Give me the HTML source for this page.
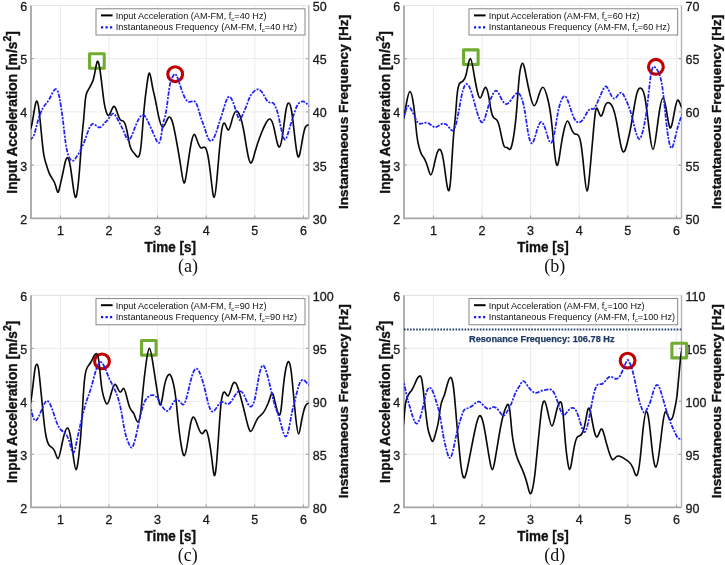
<!DOCTYPE html><html><head><meta charset="utf-8"><style>html,body{margin:0;padding:0;background:#fff;width:725px;height:565px;overflow:hidden}</style></head><body><svg width="725" height="565" viewBox="0 0 725 565" style="display:block;will-change:transform">
<rect width="725" height="565" fill="#fff"/>
<path d="M60.40,5.5V218.3M109.00,5.5V218.3M157.60,5.5V218.3M206.20,5.5V218.3M254.80,5.5V218.3M303.40,5.5V218.3M31,165.10H308.8M31,111.90H308.8M31,58.70H308.8" stroke="#ebebeb" stroke-width="1" fill="none"/>
<path d="M31,5.5H308.8" stroke="#e6e6e6" stroke-width="1.2" fill="none"/>
<path d="M60.40,218.3v-2.8M109.00,218.3v-2.8M157.60,218.3v-2.8M206.20,218.3v-2.8M254.80,218.3v-2.8M303.40,218.3v-2.8M31,165.10h2.8M308.8,165.10h-2.8M31,111.90h2.8M308.8,111.90h-2.8M31,58.70h2.8M308.8,58.70h-2.8" stroke="#999" stroke-width="1" fill="none"/>
<path d="M31,5.5V218.3H308.8" stroke="#a6a6a6" stroke-width="1.8" fill="none"/>
<path d="M308.8,5.5V218.3" stroke="#b4b4b4" stroke-width="1.4" fill="none"/>
<g font-family="Liberation Sans" font-size="12.5" fill="#1a1a1a" stroke="#1a1a1a" stroke-width="0.3"><text x="27.2" y="223.70" text-anchor="end">2</text><text x="312.8" y="223.70" text-anchor="start">30</text><text x="27.2" y="170.50" text-anchor="end">3</text><text x="312.8" y="170.50" text-anchor="start">35</text><text x="27.2" y="117.30" text-anchor="end">4</text><text x="312.8" y="117.30" text-anchor="start">40</text><text x="27.2" y="64.10" text-anchor="end">5</text><text x="312.8" y="64.10" text-anchor="start">45</text><text x="27.2" y="10.90" text-anchor="end">6</text><text x="312.8" y="10.90" text-anchor="start">50</text><text x="60.40" y="234.50" text-anchor="middle">1</text><text x="109.00" y="234.50" text-anchor="middle">2</text><text x="157.60" y="234.50" text-anchor="middle">3</text><text x="206.20" y="234.50" text-anchor="middle">4</text><text x="254.80" y="234.50" text-anchor="middle">5</text><text x="303.40" y="234.50" text-anchor="middle">6</text></g>
<g font-family="Liberation Sans" font-size="13.6" font-weight="bold" fill="#111" stroke="#111" stroke-width="0.35"><text transform="translate(170.20,251.70) scale(0.93,1)" font-size="14.5" text-anchor="middle">Time [s]</text><text transform="translate(16.60,112.40) rotate(-90)" font-size="13.8" text-anchor="middle">Input Acceleration [m/s<tspan font-size="10.5" dy="-6">2</tspan><tspan dy="6">]</tspan></text><text transform="translate(348.30,111.90) rotate(-90)" text-anchor="middle">Instantaneous Frequency [Hz]</text></g>
<rect x="96.00" y="8.80" width="209.00" height="26.20" fill="#fff" stroke="#7a7a7a" stroke-width="0.9"/>
<path d="M101.00,15.40h11.6" stroke="#000" stroke-width="2"/>
<path d="M101.00,27.40h11.3" stroke="#1414ff" stroke-width="2.2" stroke-dasharray="2.2,2.3"/>
<g font-family="Liberation Sans" font-size="9.15" fill="#111"><text x="115.70" y="19.40">Input Acceleration (AM-FM, f<tspan font-size="6" dy="1.8">c</tspan><tspan dy="-1.8">=40 Hz)</tspan></text><text x="115.70" y="30.40">Instantaneous Frequency (AM-FM, f<tspan font-size="6" dy="1.8">c</tspan><tspan dy="-1.8">=40 Hz)</tspan></text></g>
<rect x="89.60" y="53.70" width="14.6" height="14.6" fill="none" stroke="#6fac2f" stroke-width="3.1" stroke-linejoin="round"/>
<circle cx="175.20" cy="74.20" r="7.4" fill="none" stroke="#c00000" stroke-width="3.1"/>
<clipPath id="cpa"><rect x="31" y="5.5" width="277.8" height="212.8"/></clipPath>
<g clip-path="url(#cpa)" fill="none" stroke-linejoin="round">
<path d="M30.00,130.00 C30.33,129.48 30.67,128.96 31.00,128.00 C32.00,125.11 33.00,118.19 34.00,112.00 C35.00,105.81 36.00,100.36 37.00,101.06 C37.67,101.52 38.33,104.72 39.00,110.00 C39.60,114.75 40.20,121.19 40.80,127.50 C41.30,132.75 41.80,137.91 42.30,142.60 C42.80,147.29 43.30,151.50 43.80,154.60 C44.53,159.15 45.27,161.31 46.00,163.60 C47.00,166.73 48.00,170.11 49.00,172.60 C50.27,175.75 51.53,177.46 52.80,179.40 C53.80,180.94 54.80,182.62 55.80,186.20 C56.47,188.59 57.13,191.82 57.80,192.17 C58.63,192.60 59.47,188.53 60.30,184.70 C61.30,180.10 62.30,175.84 63.30,171.00 C64.03,167.45 64.77,163.59 65.50,161.00 C66.03,159.12 66.57,157.91 67.10,157.65 C67.63,157.40 68.17,158.09 68.70,159.50 C69.17,160.73 69.63,162.51 70.10,165.00 C71.10,170.33 72.10,178.88 73.10,186.20 C73.87,191.81 74.63,196.69 75.40,197.33 C76.13,197.94 76.87,194.67 77.60,189.20 C78.37,183.48 79.13,175.35 79.90,165.00 C80.63,155.10 81.37,143.18 82.10,135.00 C82.60,129.42 83.10,125.58 83.60,120.00 C84.17,113.68 84.73,105.12 85.30,100.00 C86.00,93.67 86.70,92.58 87.40,91.40 C88.67,89.27 89.93,86.89 91.20,84.60 C91.93,83.28 92.67,81.99 93.40,79.30 C94.17,76.49 94.93,72.16 95.70,68.00 C96.20,65.29 96.70,62.66 97.20,61.71 C97.93,60.33 98.67,62.57 99.40,66.50 C100.17,70.61 100.93,76.56 101.70,83.10 C102.43,89.36 103.17,96.16 103.90,101.10 C104.67,106.26 105.43,109.39 106.20,111.70 C106.93,113.91 107.67,115.37 108.40,115.40 C109.43,115.43 110.47,112.61 111.50,110.20 C112.50,107.87 113.50,105.92 114.50,106.51 C115.50,107.09 116.50,110.22 117.50,113.20 C118.50,116.18 119.50,119.01 120.50,120.00 C121.23,120.72 121.97,120.45 122.70,120.70 C123.47,120.96 124.23,121.78 125.00,123.70 C125.73,125.54 126.47,128.39 127.20,132.00 C128.13,136.60 129.07,142.44 130.00,146.00 C131.33,151.08 132.67,151.50 134.00,153.00 C135.20,154.35 136.40,156.57 137.60,156.95 C138.73,157.31 139.87,156.03 141.00,146.00 C142.00,137.15 143.00,121.49 144.00,110.00 C144.97,98.90 145.93,91.69 146.90,84.80 C147.77,78.62 148.63,72.69 149.50,73.01 C150.37,73.34 151.23,79.92 152.10,84.80 C153.00,89.87 153.90,93.09 154.80,97.20 C156.03,102.83 157.27,110.10 158.50,115.80 C159.93,122.42 161.37,126.92 162.80,127.00 C164.80,127.11 166.80,118.60 168.80,117.21 C170.20,116.23 171.60,118.74 173.00,124.00 C174.33,129.01 175.67,136.51 177.00,144.00 C178.33,151.49 179.67,158.96 181.00,168.00 C182.00,174.78 183.00,182.44 184.00,182.97 C185.00,183.50 186.00,176.89 187.00,170.00 C188.33,160.81 189.67,151.10 191.00,144.00 C192.00,138.68 193.00,134.82 194.00,134.43 C195.00,134.05 196.00,137.13 197.00,140.00 C198.33,143.83 199.67,147.30 201.00,147.90 C202.33,148.50 203.67,146.23 205.00,147.28 C206.00,148.07 207.00,150.71 208.00,156.00 C209.00,161.29 210.00,169.22 211.00,178.00 C212.07,187.37 213.13,197.71 214.20,197.29 C215.13,196.92 216.07,188.32 217.00,178.00 C218.00,166.94 219.00,153.92 220.00,144.00 C221.20,132.10 222.40,124.66 223.60,123.26 C224.40,122.33 225.20,124.07 226.00,126.00 C226.87,128.09 227.73,130.38 228.60,129.95 C229.73,129.38 230.87,124.14 232.00,120.00 C233.33,115.14 234.67,111.80 236.00,111.13 C237.33,110.46 238.67,112.45 240.00,116.00 C241.33,119.55 242.67,124.66 244.00,132.00 C245.00,137.51 246.00,144.26 247.00,150.00 C248.20,156.88 249.40,162.29 250.60,162.93 C252.07,163.72 253.53,157.39 255.00,152.00 C257.00,144.65 259.00,139.03 261.00,134.00 C262.67,129.81 264.33,126.04 266.00,123.00 C267.33,120.57 268.67,118.62 270.00,119.06 C271.33,119.51 272.67,122.37 274.00,128.00 C275.00,132.22 276.00,138.01 277.00,142.00 C277.87,145.46 278.73,147.57 279.60,146.87 C280.73,145.95 281.87,140.22 283.00,132.00 C284.00,124.75 285.00,115.56 286.00,110.00 C287.00,104.44 288.00,102.52 289.00,103.10 C289.80,103.56 290.60,105.62 291.40,110.00 C292.27,114.74 293.13,122.21 294.00,130.00 C295.33,141.99 296.67,154.75 298.00,156.72 C299.33,158.69 300.67,149.86 302.00,142.00 C303.00,136.11 304.00,130.76 305.00,128.00 C306.00,125.24 307.00,125.06 308.00,125.00 C308.67,124.96 309.33,124.98 310.00,125.00" stroke="#0a0a0a" stroke-width="1.65"/>
<path d="M30.00,140.00 C30.33,139.65 30.67,139.30 31.00,139.00 C32.00,138.09 33.00,137.58 34.00,135.00 C35.00,132.42 36.00,127.77 37.00,124.00 C38.00,120.23 39.00,117.33 40.00,114.70 C41.00,112.07 42.00,109.70 43.00,107.90 C45.00,104.30 47.00,102.96 49.00,99.60 C51.03,96.18 53.07,90.66 55.10,89.36 C56.10,88.72 57.10,89.11 58.10,92.10 C59.10,95.09 60.10,100.69 61.10,107.20 C61.73,111.32 62.37,115.81 63.00,121.00 C63.87,128.11 64.73,136.53 65.60,142.60 C66.83,151.23 68.07,155.09 69.30,157.60 C70.33,159.70 71.37,160.86 72.40,160.90 C73.63,160.94 74.87,159.38 76.10,157.60 C77.60,155.44 79.10,152.96 80.60,150.00 C82.10,147.04 83.60,143.61 85.10,139.50 C86.60,135.39 88.10,130.59 89.60,127.50 C90.63,125.37 91.67,124.05 92.70,123.83 C93.70,123.62 94.70,124.45 95.70,125.30 C97.20,126.57 98.70,127.89 100.20,127.39 C101.70,126.89 103.20,124.56 104.70,123.00 C105.70,121.96 106.70,121.27 107.70,120.00 C109.47,117.76 111.23,113.72 113.00,113.60 C114.67,113.49 116.33,116.87 118.00,120.00 C120.00,123.76 122.00,127.18 124.00,132.00 C125.33,135.22 126.67,139.06 128.00,139.84 C130.00,141.02 132.00,135.33 134.00,130.00 C137.33,121.11 140.67,113.21 144.00,115.36 C146.00,116.65 148.00,121.56 150.00,126.00 C151.50,129.33 153.00,132.40 154.50,136.00 C155.70,138.88 156.90,142.11 158.10,142.85 C159.07,143.44 160.03,142.42 161.00,137.00 C161.67,133.26 162.33,127.42 163.00,124.00 C163.67,120.58 164.33,119.56 165.00,117.00 C166.00,113.15 167.00,105.82 168.00,98.00 C168.67,92.79 169.33,87.36 170.00,84.00 C170.67,80.64 171.33,79.36 172.00,78.00 C172.87,76.24 173.73,74.35 174.60,74.05 C175.73,73.64 176.87,75.94 178.00,79.00 C179.00,81.70 180.00,84.99 181.00,88.00 C182.33,92.02 183.67,95.55 185.00,98.00 C186.33,100.45 187.67,101.80 189.00,101.98 C190.67,102.20 192.33,100.57 194.00,101.11 C195.00,101.43 196.00,102.54 197.00,105.00 C198.33,108.28 199.67,113.97 201.00,118.00 C202.00,121.03 203.00,123.12 204.00,126.00 C205.33,129.84 206.67,135.06 208.00,138.00 C209.00,140.20 210.00,141.12 211.00,140.99 C212.33,140.81 213.67,138.78 215.00,135.50 C216.33,132.22 217.67,127.69 219.00,123.50 C220.33,119.31 221.67,115.44 223.00,111.00 C224.10,107.33 225.20,103.27 226.30,100.50 C227.20,98.23 228.10,96.83 229.00,96.63 C230.33,96.33 231.67,98.67 233.00,102.00 C234.33,105.33 235.67,109.67 237.00,114.00 C238.00,117.25 239.00,120.50 240.00,119.93 C240.47,119.67 240.93,118.57 241.40,117.50 C242.33,115.36 243.27,113.31 244.20,111.20 C245.17,109.01 246.13,106.74 247.10,104.10 C247.80,102.19 248.50,100.08 249.20,98.40 C250.13,96.16 251.07,94.69 252.00,93.50 C252.97,92.27 253.93,91.34 254.90,90.60 C255.93,89.80 256.97,89.22 258.00,89.31 C258.83,89.39 259.67,89.91 260.50,90.60 C261.23,91.21 261.97,91.95 262.70,93.10 C263.40,94.19 264.10,95.65 264.80,97.00 C265.50,98.35 266.20,99.58 266.90,100.50 C267.60,101.42 268.30,102.01 269.00,102.30 C269.97,102.70 270.93,102.53 271.90,102.70 C272.60,102.82 273.30,103.13 274.00,104.10 C274.60,104.94 275.20,106.26 275.80,107.60 C276.27,108.64 276.73,109.68 277.20,111.20 C277.67,112.72 278.13,114.71 278.60,116.80 C279.40,120.39 280.20,124.29 281.00,128.00 C282.20,133.56 283.40,138.67 284.60,139.48 C286.07,140.47 287.53,135.03 289.00,130.00 C290.33,125.43 291.67,121.21 293.00,117.00 C294.33,112.79 295.67,108.59 297.00,106.00 C298.00,104.06 299.00,103.02 300.00,102.30 C300.90,101.65 301.80,101.26 302.70,101.30 C303.80,101.35 304.90,102.04 306.00,103.00 C307.00,103.87 308.00,104.97 309.00,106.00 C309.67,106.69 310.33,107.34 311.00,108.00" stroke="#2020ff" stroke-width="1.75" stroke-dasharray="4.4,1.3,2.1,1.3"/>
</g>
<text x="188.10" y="271.80" font-family="Liberation Serif" font-size="18" text-anchor="middle" fill="#111">(a)</text>
<path d="M433.40,5.5V218.3M482.00,5.5V218.3M530.60,5.5V218.3M579.20,5.5V218.3M627.80,5.5V218.3M676.40,5.5V218.3M404,165.10H681.5M404,111.90H681.5M404,58.70H681.5" stroke="#ebebeb" stroke-width="1" fill="none"/>
<path d="M404,5.5H681.5" stroke="#e6e6e6" stroke-width="1.2" fill="none"/>
<path d="M433.40,218.3v-2.8M482.00,218.3v-2.8M530.60,218.3v-2.8M579.20,218.3v-2.8M627.80,218.3v-2.8M676.40,218.3v-2.8M404,165.10h2.8M681.5,165.10h-2.8M404,111.90h2.8M681.5,111.90h-2.8M404,58.70h2.8M681.5,58.70h-2.8" stroke="#999" stroke-width="1" fill="none"/>
<path d="M404,5.5V218.3H681.5" stroke="#a6a6a6" stroke-width="1.8" fill="none"/>
<path d="M681.5,5.5V218.3" stroke="#b4b4b4" stroke-width="1.4" fill="none"/>
<g font-family="Liberation Sans" font-size="12.5" fill="#1a1a1a" stroke="#1a1a1a" stroke-width="0.3"><text x="400.2" y="223.70" text-anchor="end">2</text><text x="685.5" y="223.70" text-anchor="start">50</text><text x="400.2" y="170.50" text-anchor="end">3</text><text x="685.5" y="170.50" text-anchor="start">55</text><text x="400.2" y="117.30" text-anchor="end">4</text><text x="685.5" y="117.30" text-anchor="start">60</text><text x="400.2" y="64.10" text-anchor="end">5</text><text x="685.5" y="64.10" text-anchor="start">65</text><text x="400.2" y="10.90" text-anchor="end">6</text><text x="685.5" y="10.90" text-anchor="start">70</text><text x="433.40" y="234.50" text-anchor="middle">1</text><text x="482.00" y="234.50" text-anchor="middle">2</text><text x="530.60" y="234.50" text-anchor="middle">3</text><text x="579.20" y="234.50" text-anchor="middle">4</text><text x="627.80" y="234.50" text-anchor="middle">5</text><text x="676.40" y="234.50" text-anchor="middle">6</text></g>
<g font-family="Liberation Sans" font-size="13.6" font-weight="bold" fill="#111" stroke="#111" stroke-width="0.35"><text transform="translate(543.05,251.70) scale(0.93,1)" font-size="14.5" text-anchor="middle">Time [s]</text><text transform="translate(389.60,112.40) rotate(-90)" font-size="13.8" text-anchor="middle">Input Acceleration [m/s<tspan font-size="10.5" dy="-6">2</tspan><tspan dy="6">]</tspan></text><text transform="translate(721.00,111.90) rotate(-90)" text-anchor="middle">Instantaneous Frequency [Hz]</text></g>
<rect x="469.00" y="8.80" width="208.70" height="26.20" fill="#fff" stroke="#7a7a7a" stroke-width="0.9"/>
<path d="M474.00,15.40h11.6" stroke="#000" stroke-width="2"/>
<path d="M474.00,27.40h11.3" stroke="#1414ff" stroke-width="2.2" stroke-dasharray="2.2,2.3"/>
<g font-family="Liberation Sans" font-size="9.15" fill="#111"><text x="488.70" y="19.40">Input Acceleration (AM-FM, f<tspan font-size="6" dy="1.8">c</tspan><tspan dy="-1.8">=60 Hz)</tspan></text><text x="488.70" y="30.40">Instantaneous Frequency (AM-FM, f<tspan font-size="6" dy="1.8">c</tspan><tspan dy="-1.8">=60 Hz)</tspan></text></g>
<rect x="463.50" y="49.90" width="14.6" height="14.6" fill="none" stroke="#6fac2f" stroke-width="3.1" stroke-linejoin="round"/>
<circle cx="655.90" cy="66.80" r="7.4" fill="none" stroke="#c00000" stroke-width="3.1"/>
<clipPath id="cpb"><rect x="404" y="5.5" width="277.5" height="212.8"/></clipPath>
<g clip-path="url(#cpb)" fill="none" stroke-linejoin="round">
<path d="M402.00,124.00 C402.67,121.68 403.33,119.36 404.00,116.30 C405.00,111.71 406.00,105.45 407.00,100.40 C408.00,95.35 409.00,91.51 410.00,91.50 C410.93,91.49 411.87,94.81 412.80,100.00 C413.40,103.33 414.00,107.44 414.60,113.00 C414.83,115.16 415.07,117.55 415.30,120.00 C415.80,125.25 416.30,130.82 416.80,135.00 C417.53,141.13 418.27,144.30 419.00,147.00 C419.77,149.83 420.53,152.15 421.30,153.80 C422.53,156.46 423.77,157.38 425.00,159.80 C426.00,161.76 427.00,164.69 428.00,168.10 C428.93,171.28 429.87,174.86 430.80,174.90 C431.90,174.94 433.00,170.05 434.10,165.10 C435.10,160.60 436.10,156.05 437.10,153.10 C437.93,150.64 438.77,149.30 439.60,149.30 C440.50,149.30 441.40,150.87 442.30,154.60 C443.07,157.78 443.83,162.52 444.60,168.10 C445.37,173.68 446.13,180.08 446.90,184.70 C447.40,187.71 447.90,189.96 448.40,190.55 C449.13,191.41 449.87,188.70 450.60,180.20 C451.10,174.40 451.60,165.91 452.10,157.60 C452.60,149.29 453.10,141.17 453.60,135.00 C454.23,127.19 454.87,122.51 455.50,115.00 C456.00,109.07 456.50,101.37 457.00,96.00 C458.00,85.26 459.00,83.86 460.00,83.00 C461.00,82.14 462.00,81.82 463.00,81.00 C464.00,80.18 465.00,78.87 466.00,75.00 C467.47,69.33 468.93,58.17 470.40,58.51 C471.60,58.79 472.80,66.77 474.00,74.00 C475.00,80.03 476.00,85.53 477.00,90.00 C478.00,94.47 479.00,97.91 480.00,98.00 C481.00,98.09 482.00,94.82 483.00,92.00 C484.00,89.18 485.00,86.79 486.00,87.54 C487.00,88.29 488.00,92.18 489.00,98.00 C489.67,101.88 490.33,106.62 491.00,110.00 C492.00,115.06 493.00,117.05 494.00,118.00 C495.33,119.27 496.67,118.70 498.00,122.00 C499.00,124.48 500.00,129.14 501.00,134.00 C502.00,138.86 503.00,143.92 504.00,146.00 C505.00,148.08 506.00,147.16 507.00,147.60 C508.20,148.13 509.40,150.60 510.60,148.69 C511.40,147.42 512.20,144.20 513.00,140.00 C514.23,133.53 515.47,124.72 516.70,109.40 C517.57,98.64 518.43,84.66 519.30,76.50 C519.87,71.17 520.43,68.32 521.00,66.30 C521.53,64.40 522.07,63.22 522.60,63.30 C523.13,63.39 523.67,64.75 524.20,66.80 C524.87,69.36 525.53,73.01 526.20,76.50 C527.47,83.14 528.73,89.24 530.00,94.60 C531.40,100.53 532.80,105.55 534.20,105.70 C535.80,105.87 537.40,99.67 539.00,94.60 C540.23,90.69 541.47,87.46 542.70,87.21 C544.47,86.87 546.23,92.66 548.00,100.00 C548.67,102.77 549.33,105.76 550.00,110.00 C551.00,116.36 552.00,125.51 553.00,136.00 C553.67,142.99 554.33,150.58 555.00,156.00 C555.87,163.05 556.73,166.44 557.60,165.12 C558.73,163.39 559.87,153.61 561.00,146.00 C562.00,139.29 563.00,134.27 564.00,130.00 C565.20,124.88 566.40,120.83 567.60,121.01 C568.73,121.17 569.87,125.10 571.00,128.00 C572.33,131.41 573.67,133.41 575.00,134.00 C576.00,134.45 577.00,134.10 578.00,135.00 C579.00,135.90 580.00,138.03 581.00,144.00 C582.00,149.97 583.00,159.78 584.00,170.00 C585.00,180.22 586.00,190.84 587.00,191.00 C588.00,191.16 589.00,180.86 590.00,170.00 C591.00,159.14 592.00,147.72 593.00,136.00 C594.00,124.28 595.00,112.26 596.00,109.00 C596.67,106.83 597.33,108.54 598.00,110.33 C599.20,113.56 600.40,117.03 601.60,115.73 C602.73,114.50 603.87,109.02 605.00,106.00 C606.33,102.45 607.67,102.29 609.00,102.84 C610.33,103.40 611.67,104.66 613.00,108.00 C614.33,111.34 615.67,116.77 617.00,124.00 C618.33,131.23 619.67,140.28 621.00,146.00 C621.80,149.43 622.60,151.67 623.40,151.97 C624.60,152.41 625.80,148.48 627.00,144.00 C628.33,139.02 629.67,133.36 631.00,126.00 C632.00,120.48 633.00,114.01 634.00,108.00 C635.00,101.99 636.00,96.44 637.00,93.00 C638.33,88.41 639.67,87.57 641.00,88.17 C642.33,88.77 643.67,90.80 645.00,98.00 C646.00,103.40 647.00,111.70 648.00,120.00 C648.67,125.53 649.33,131.06 650.00,136.00 C651.00,143.40 652.00,149.47 653.00,149.40 C654.00,149.33 655.00,143.13 656.00,136.00 C657.20,127.44 658.40,117.54 659.60,110.00 C660.73,102.88 661.87,97.88 663.00,98.00 C664.00,98.11 665.00,102.22 666.00,108.00 C667.33,115.71 668.67,126.41 670.00,127.83 C671.33,129.26 672.67,121.41 674.00,114.00 C675.20,107.33 676.40,101.02 677.60,100.12 C678.73,99.27 679.87,103.25 681.00,106.00 C681.67,107.62 682.33,108.81 683.00,110.00" stroke="#0a0a0a" stroke-width="1.65"/>
<path d="M402.00,120.00 C402.67,119.44 403.33,118.88 404.00,117.00 C404.73,114.93 405.47,111.25 406.20,109.00 C407.00,106.54 407.80,105.79 408.60,106.05 C409.57,106.37 410.53,108.18 411.50,110.00 C412.40,111.70 413.30,113.41 414.20,115.40 C415.37,117.98 416.53,121.02 417.70,122.50 C418.87,123.98 420.03,123.91 421.20,123.66 C422.70,123.34 424.20,122.72 425.70,122.70 C427.13,122.68 428.57,123.20 430.00,124.20 C431.67,125.36 433.33,127.16 435.00,127.29 C436.60,127.42 438.20,126.02 439.80,125.00 C441.07,124.20 442.33,123.63 443.60,123.60 C445.07,123.56 446.53,124.24 448.00,126.00 C449.67,128.00 451.33,131.40 453.00,130.43 C454.33,129.65 455.67,126.07 457.00,120.00 C458.00,115.45 459.00,109.50 460.00,104.00 C461.00,98.50 462.00,93.45 463.00,90.00 C464.47,84.94 465.93,83.32 467.40,84.25 C468.93,85.23 470.47,89.01 472.00,94.00 C473.67,99.43 475.33,106.30 477.00,112.00 C479.00,118.84 481.00,124.01 483.00,121.94 C485.00,119.86 487.00,110.55 489.00,104.00 C490.33,99.63 491.67,96.50 493.00,94.00 C494.00,92.13 495.00,90.61 496.00,90.60 C497.67,90.58 499.33,94.71 501.00,98.00 C502.67,101.29 504.33,103.72 506.00,103.98 C507.67,104.23 509.33,102.32 511.00,100.00 C513.10,97.08 515.20,93.54 517.30,93.05 C518.03,92.89 518.77,93.09 519.50,94.00 C520.00,94.62 520.50,95.57 521.00,96.70 C522.20,99.42 523.40,103.20 524.60,110.00 C525.73,116.42 526.87,125.53 528.00,132.00 C529.53,140.75 531.07,144.66 532.60,143.04 C534.07,141.50 535.53,134.91 537.00,130.00 C538.47,125.09 539.93,121.87 541.40,122.00 C542.93,122.15 544.47,125.96 546.00,131.00 C547.67,136.48 549.33,143.40 551.00,142.98 C552.33,142.65 553.67,137.63 555.00,130.00 C556.00,124.28 557.00,117.09 558.00,112.00 C558.67,108.61 559.33,106.14 560.00,104.00 C561.67,98.64 563.33,95.30 565.00,96.13 C566.33,96.79 567.67,100.12 569.00,104.00 C570.67,108.85 572.33,114.55 574.00,118.00 C575.67,121.45 577.33,122.67 579.00,122.48 C580.67,122.30 582.33,120.72 584.00,118.00 C586.00,114.74 588.00,109.84 590.00,109.00 C591.33,108.44 592.67,109.68 594.00,108.60 C595.20,107.63 596.40,104.79 597.60,102.00 C599.07,98.59 600.53,95.25 602.00,92.00 C603.33,89.04 604.67,86.16 606.00,86.42 C607.33,86.67 608.67,90.07 610.00,93.00 C611.33,95.93 612.67,98.39 614.00,98.59 C615.33,98.78 616.67,96.72 618.00,95.00 C619.20,93.45 620.40,92.19 621.60,92.73 C623.07,93.39 624.53,96.74 626.00,100.00 C627.33,102.96 628.67,105.84 630.00,110.00 C631.33,114.16 632.67,119.59 634.00,125.00 C635.67,131.76 637.33,138.48 639.00,138.97 C640.67,139.46 642.33,133.72 644.00,126.00 C645.00,121.37 646.00,116.02 647.00,108.00 C648.33,97.30 649.67,81.85 651.00,74.00 C652.67,64.19 654.33,66.26 656.00,68.32 C657.33,69.97 658.67,71.61 660.00,76.00 C661.00,79.29 662.00,84.12 663.00,92.00 C664.00,99.88 665.00,110.79 666.00,120.00 C667.87,137.18 669.73,148.40 671.60,147.99 C673.07,147.67 674.53,140.17 676.00,134.00 C677.33,128.39 678.67,123.88 680.00,120.00 C681.00,117.09 682.00,114.55 683.00,112.00" stroke="#2020ff" stroke-width="1.75" stroke-dasharray="4.4,1.3,2.1,1.3"/>
</g>
<text x="554.80" y="271.80" font-family="Liberation Serif" font-size="18" text-anchor="middle" fill="#111">(b)</text>
<path d="M60.40,295.3V507.3M109.00,295.3V507.3M157.60,295.3V507.3M206.20,295.3V507.3M254.80,295.3V507.3M303.40,295.3V507.3M31,454.30H308.8M31,401.30H308.8M31,348.30H308.8" stroke="#ebebeb" stroke-width="1" fill="none"/>
<path d="M31,295.3H308.8" stroke="#e6e6e6" stroke-width="1.2" fill="none"/>
<path d="M60.40,507.3v-2.8M109.00,507.3v-2.8M157.60,507.3v-2.8M206.20,507.3v-2.8M254.80,507.3v-2.8M303.40,507.3v-2.8M31,454.30h2.8M308.8,454.30h-2.8M31,401.30h2.8M308.8,401.30h-2.8M31,348.30h2.8M308.8,348.30h-2.8" stroke="#999" stroke-width="1" fill="none"/>
<path d="M31,295.3V507.3H308.8" stroke="#a6a6a6" stroke-width="1.8" fill="none"/>
<path d="M308.8,295.3V507.3" stroke="#b4b4b4" stroke-width="1.4" fill="none"/>
<g font-family="Liberation Sans" font-size="12.5" fill="#1a1a1a" stroke="#1a1a1a" stroke-width="0.3"><text x="27.2" y="512.70" text-anchor="end">2</text><text x="312.8" y="512.70" text-anchor="start">80</text><text x="27.2" y="459.70" text-anchor="end">3</text><text x="312.8" y="459.70" text-anchor="start">85</text><text x="27.2" y="406.70" text-anchor="end">4</text><text x="312.8" y="406.70" text-anchor="start">90</text><text x="27.2" y="353.70" text-anchor="end">5</text><text x="312.8" y="353.70" text-anchor="start">95</text><text x="27.2" y="300.70" text-anchor="end">6</text><text x="312.8" y="300.70" text-anchor="start">100</text><text x="60.40" y="523.50" text-anchor="middle">1</text><text x="109.00" y="523.50" text-anchor="middle">2</text><text x="157.60" y="523.50" text-anchor="middle">3</text><text x="206.20" y="523.50" text-anchor="middle">4</text><text x="254.80" y="523.50" text-anchor="middle">5</text><text x="303.40" y="523.50" text-anchor="middle">6</text></g>
<g font-family="Liberation Sans" font-size="13.6" font-weight="bold" fill="#111" stroke="#111" stroke-width="0.35"><text transform="translate(170.20,540.70) scale(0.93,1)" font-size="14.5" text-anchor="middle">Time [s]</text><text transform="translate(16.60,401.80) rotate(-90)" font-size="13.8" text-anchor="middle">Input Acceleration [m/s<tspan font-size="10.5" dy="-6">2</tspan><tspan dy="6">]</tspan></text><text transform="translate(348.30,401.30) rotate(-90)" text-anchor="middle">Instantaneous Frequency [Hz]</text></g>
<rect x="96.00" y="298.60" width="209.00" height="26.20" fill="#fff" stroke="#7a7a7a" stroke-width="0.9"/>
<path d="M101.00,305.20h11.6" stroke="#000" stroke-width="2"/>
<path d="M101.00,317.20h11.3" stroke="#1414ff" stroke-width="2.2" stroke-dasharray="2.2,2.3"/>
<g font-family="Liberation Sans" font-size="9.15" fill="#111"><text x="115.70" y="309.20">Input Acceleration (AM-FM, f<tspan font-size="6" dy="1.8">c</tspan><tspan dy="-1.8">=90 Hz)</tspan></text><text x="115.70" y="320.20">Instantaneous Frequency (AM-FM, f<tspan font-size="6" dy="1.8">c</tspan><tspan dy="-1.8">=90 Hz)</tspan></text></g>
<circle cx="102.00" cy="361.40" r="7.4" fill="none" stroke="#c00000" stroke-width="3.1"/>
<rect x="141.50" y="340.50" width="14.6" height="14.6" fill="none" stroke="#6fac2f" stroke-width="3.1" stroke-linejoin="round"/>
<clipPath id="cpc"><rect x="31" y="295.3" width="277.8" height="212.0"/></clipPath>
<g clip-path="url(#cpc)" fill="none" stroke-linejoin="round">
<path d="M29.00,410.00 C29.70,407.01 30.40,404.02 31.10,399.60 C31.93,394.34 32.77,387.04 33.60,379.80 C34.20,374.59 34.80,369.40 35.40,366.80 C35.83,364.92 36.27,364.39 36.70,364.31 C37.30,364.20 37.90,364.94 38.50,368.60 C39.13,372.47 39.77,379.58 40.40,386.00 C41.03,392.42 41.67,398.13 42.30,404.60 C42.87,410.39 43.43,416.79 44.00,422.00 C44.67,428.13 45.33,432.63 46.00,436.00 C47.00,441.05 48.00,443.55 49.00,445.00 C50.00,446.45 51.00,446.86 52.00,447.60 C53.00,448.34 54.00,449.40 55.00,452.00 C56.00,454.60 57.00,458.75 58.00,458.60 C59.33,458.39 60.67,450.53 62.00,444.00 C63.00,439.11 64.00,434.96 65.00,432.00 C65.87,429.43 66.73,427.75 67.60,428.03 C68.40,428.29 69.20,430.22 70.00,434.00 C71.00,438.73 72.00,446.35 73.00,454.00 C74.00,461.65 75.00,469.33 76.00,469.59 C77.00,469.86 78.00,462.70 79.00,454.00 C79.87,446.46 80.73,437.76 81.60,424.00 C82.07,416.59 82.53,407.71 83.00,400.00 C83.50,391.74 84.00,384.83 84.50,380.00 C85.33,371.94 86.17,369.66 87.00,368.00 C88.33,365.35 89.67,364.31 91.00,362.00 C92.00,360.26 93.00,357.81 94.00,356.00 C94.80,354.55 95.60,353.52 96.40,353.60 C97.27,353.69 98.13,355.09 99.00,362.00 C99.67,367.31 100.33,375.89 101.00,382.00 C102.00,391.17 103.00,394.79 104.00,398.00 C105.00,401.21 106.00,404.01 107.00,404.00 C108.33,403.98 109.67,398.97 111.00,394.00 C112.20,389.53 113.40,385.10 114.60,384.48 C115.73,383.89 116.87,386.71 118.00,389.00 C119.00,391.02 120.00,392.64 121.00,391.75 C121.87,390.97 122.73,388.29 123.60,388.40 C124.73,388.54 125.87,393.44 127.00,398.00 C128.00,402.02 129.00,405.78 130.00,408.00 C131.33,410.96 132.67,411.16 134.00,414.00 C135.33,416.84 136.67,422.30 138.00,421.99 C139.00,421.76 140.00,418.28 141.00,410.00 C141.67,404.48 142.33,396.82 143.00,390.00 C144.00,379.76 145.00,371.40 146.00,364.00 C147.13,355.61 148.27,348.46 149.40,348.40 C150.60,348.33 151.80,356.21 153.00,364.00 C154.33,372.65 155.67,381.20 157.00,390.00 C158.20,397.92 159.40,406.06 160.60,404.89 C161.73,403.78 162.87,394.37 164.00,388.00 C165.00,382.38 166.00,379.13 167.00,377.00 C167.93,375.01 168.87,374.00 169.80,374.55 C170.87,375.17 171.93,377.83 173.00,382.00 C174.00,385.91 175.00,391.15 176.00,400.00 C176.67,405.90 177.33,413.41 178.00,420.00 C179.00,429.89 180.00,437.74 181.00,444.00 C182.13,451.10 183.27,456.16 184.40,455.55 C185.60,454.90 186.80,447.88 188.00,440.00 C189.00,433.43 190.00,426.27 191.00,422.00 C191.87,418.30 192.73,416.78 193.60,417.03 C194.73,417.36 195.87,420.72 197.00,424.00 C198.33,427.86 199.67,431.59 201.00,433.00 C201.67,433.70 202.33,433.83 203.00,433.17 C204.00,432.18 205.00,429.44 206.00,430.10 C207.00,430.76 208.00,434.83 209.00,440.00 C210.00,445.17 211.00,451.44 212.00,460.00 C212.73,466.28 213.47,473.78 214.20,475.30 C215.13,477.24 216.07,469.48 217.00,458.00 C217.80,448.16 218.60,435.60 219.40,424.00 C219.93,416.27 220.47,408.96 221.00,404.00 C221.50,399.35 222.00,396.76 222.50,395.00 C223.17,392.66 223.83,391.79 224.50,392.04 C225.67,392.48 226.83,396.35 228.00,395.97 C229.33,395.54 230.67,389.57 232.00,386.00 C232.87,383.68 233.73,382.37 234.60,382.40 C235.73,382.44 236.87,384.77 238.00,388.00 C239.33,391.80 240.67,396.84 242.00,402.00 C243.00,405.87 244.00,409.82 245.00,414.00 C246.00,418.18 247.00,422.60 248.00,426.00 C248.87,428.94 249.73,431.12 250.60,431.37 C251.73,431.70 252.87,428.74 254.00,426.00 C255.33,422.77 256.67,419.84 258.00,418.00 C259.67,415.69 261.33,415.08 263.00,413.00 C264.00,411.75 265.00,409.97 266.00,408.00 C267.33,405.37 268.67,402.40 270.00,398.00 C270.67,395.80 271.33,393.24 272.00,393.02 C273.00,392.68 274.00,397.58 275.00,402.00 C275.67,404.94 276.33,407.67 277.00,410.00 C277.67,412.33 278.33,414.26 279.00,414.84 C279.67,415.41 280.33,414.62 281.00,410.00 C281.67,405.38 282.33,396.91 283.00,390.00 C284.00,379.63 285.00,372.74 286.00,368.00 C286.87,363.89 287.73,361.39 288.60,361.61 C289.40,361.82 290.20,364.33 291.00,370.00 C292.00,377.08 293.00,389.09 294.00,400.00 C294.67,407.27 295.33,414.06 296.00,420.00 C296.87,427.72 297.73,434.00 298.60,434.00 C299.40,434.00 300.20,428.66 301.00,424.00 C302.00,418.17 303.00,413.40 304.00,410.00 C304.67,407.73 305.33,406.07 306.00,405.00 C307.00,403.39 308.00,403.09 309.00,403.00 C309.67,402.94 310.33,402.97 311.00,403.00" stroke="#0a0a0a" stroke-width="1.65"/>
<path d="M29.00,404.00 C29.70,405.49 30.40,406.98 31.10,409.50 C31.73,411.78 32.37,414.90 33.00,417.00 C33.80,419.65 34.60,420.68 35.40,420.70 C36.43,420.72 37.47,419.06 38.50,417.00 C39.77,414.48 41.03,411.36 42.30,408.30 C43.73,404.84 45.17,401.45 46.60,400.89 C47.83,400.40 49.07,402.01 50.30,404.60 C51.53,407.19 52.77,410.75 54.00,414.50 C55.00,417.54 56.00,420.70 57.00,423.20 C58.33,426.54 59.67,428.72 61.00,430.00 C62.33,431.28 63.67,431.67 65.00,433.00 C66.67,434.67 68.33,437.82 70.00,444.00 C71.00,447.71 72.00,452.51 73.00,452.96 C74.33,453.57 75.67,446.46 77.00,440.00 C78.33,433.54 79.67,427.74 81.00,422.00 C82.33,416.26 83.67,410.59 85.00,406.00 C87.00,399.12 89.00,394.69 91.00,388.00 C92.67,382.42 94.33,375.28 96.00,370.00 C97.33,365.78 98.67,362.74 100.00,362.12 C101.33,361.50 102.67,363.29 104.00,366.00 C105.67,369.38 107.33,374.19 109.00,378.00 C110.67,381.81 112.33,384.61 114.00,388.00 C115.33,390.71 116.67,393.81 118.00,398.00 C119.00,401.15 120.00,404.91 121.00,410.00 C122.33,416.78 123.67,425.91 125.00,432.00 C126.33,438.09 127.67,441.14 129.00,444.00 C129.87,445.86 130.73,447.65 131.60,447.60 C132.73,447.54 133.87,444.34 135.00,440.00 C136.33,434.90 137.67,428.21 139.00,422.00 C140.33,415.79 141.67,410.05 143.00,406.00 C144.67,400.94 146.33,398.54 148.00,397.00 C149.67,395.46 151.33,394.79 153.00,395.06 C154.67,395.33 156.33,396.54 158.00,399.00 C159.33,400.97 160.67,403.73 162.00,406.00 C163.33,408.27 164.67,410.04 166.00,410.71 C167.00,411.22 168.00,411.11 169.00,410.00 C170.33,408.52 171.67,405.27 173.00,403.00 C174.33,400.73 175.67,399.43 177.00,399.62 C178.33,399.80 179.67,401.47 181.00,403.00 C182.00,404.15 183.00,405.22 184.00,404.17 C185.33,402.78 186.67,397.61 188.00,392.00 C189.33,386.39 190.67,380.33 192.00,376.00 C193.53,371.02 195.07,368.34 196.60,368.62 C198.07,368.89 199.53,371.87 201.00,376.00 C202.33,379.75 203.67,384.46 205.00,390.00 C206.33,395.54 207.67,401.93 209.00,406.00 C210.33,410.07 211.67,411.83 213.00,411.58 C214.33,411.32 215.67,409.04 217.00,407.00 C218.67,404.44 220.33,402.25 222.00,402.02 C223.00,401.88 224.00,402.45 225.00,403.00 C226.33,403.73 227.67,404.41 229.00,403.70 C230.67,402.81 232.33,399.73 234.00,397.00 C236.00,393.72 238.00,390.93 240.00,391.00 C241.33,391.05 242.67,392.37 244.00,395.00 C245.33,397.63 246.67,401.57 248.00,404.00 C249.13,406.06 250.27,407.04 251.40,406.41 C252.60,405.75 253.80,403.31 255.00,398.00 C256.33,392.10 257.67,382.67 259.00,376.00 C260.33,369.33 261.67,365.41 263.00,365.40 C264.33,365.39 265.67,369.29 267.00,374.00 C268.33,378.71 269.67,384.21 271.00,390.00 C272.33,395.79 273.67,401.85 275.00,406.00 C276.00,409.11 277.00,411.14 278.00,414.00 C279.33,417.82 280.67,423.12 282.00,428.00 C283.20,432.39 284.40,436.44 285.60,436.60 C286.73,436.74 287.87,433.41 289.00,428.00 C290.00,423.23 291.00,416.84 292.00,412.00 C293.00,407.16 294.00,403.85 295.00,400.00 C296.33,394.86 297.67,388.74 299.00,385.00 C300.33,381.26 301.67,379.91 303.00,380.00 C304.67,380.13 306.33,382.52 308.00,384.00 C309.00,384.89 310.00,385.44 311.00,386.00" stroke="#2020ff" stroke-width="1.75" stroke-dasharray="4.4,1.3,2.1,1.3"/>
</g>
<text x="187.80" y="560.80" font-family="Liberation Serif" font-size="18" text-anchor="middle" fill="#111">(c)</text>
<path d="M433.40,295.3V507.3M482.00,295.3V507.3M530.60,295.3V507.3M579.20,295.3V507.3M627.80,295.3V507.3M676.40,295.3V507.3M404,454.30H681.5M404,401.30H681.5M404,348.30H681.5" stroke="#ebebeb" stroke-width="1" fill="none"/>
<path d="M404,295.3H681.5" stroke="#e6e6e6" stroke-width="1.2" fill="none"/>
<path d="M433.40,507.3v-2.8M482.00,507.3v-2.8M530.60,507.3v-2.8M579.20,507.3v-2.8M627.80,507.3v-2.8M676.40,507.3v-2.8M404,454.30h2.8M681.5,454.30h-2.8M404,401.30h2.8M681.5,401.30h-2.8M404,348.30h2.8M681.5,348.30h-2.8" stroke="#999" stroke-width="1" fill="none"/>
<path d="M404,295.3V507.3H681.5" stroke="#a6a6a6" stroke-width="1.8" fill="none"/>
<path d="M681.5,295.3V507.3" stroke="#b4b4b4" stroke-width="1.4" fill="none"/>
<g font-family="Liberation Sans" font-size="12.5" fill="#1a1a1a" stroke="#1a1a1a" stroke-width="0.3"><text x="400.2" y="512.70" text-anchor="end">2</text><text x="685.5" y="512.70" text-anchor="start">90</text><text x="400.2" y="459.70" text-anchor="end">3</text><text x="685.5" y="459.70" text-anchor="start">95</text><text x="400.2" y="406.70" text-anchor="end">4</text><text x="685.5" y="406.70" text-anchor="start">100</text><text x="400.2" y="353.70" text-anchor="end">5</text><text x="685.5" y="353.70" text-anchor="start">105</text><text x="400.2" y="300.70" text-anchor="end">6</text><text x="685.5" y="300.70" text-anchor="start">110</text><text x="433.40" y="523.50" text-anchor="middle">1</text><text x="482.00" y="523.50" text-anchor="middle">2</text><text x="530.60" y="523.50" text-anchor="middle">3</text><text x="579.20" y="523.50" text-anchor="middle">4</text><text x="627.80" y="523.50" text-anchor="middle">5</text><text x="676.40" y="523.50" text-anchor="middle">6</text></g>
<g font-family="Liberation Sans" font-size="13.6" font-weight="bold" fill="#111" stroke="#111" stroke-width="0.35"><text transform="translate(543.05,540.70) scale(0.93,1)" font-size="14.5" text-anchor="middle">Time [s]</text><text transform="translate(389.60,401.80) rotate(-90)" font-size="13.8" text-anchor="middle">Input Acceleration [m/s<tspan font-size="10.5" dy="-6">2</tspan><tspan dy="6">]</tspan></text><text transform="translate(721.00,401.30) rotate(-90)" text-anchor="middle">Instantaneous Frequency [Hz]</text></g>
<rect x="469.00" y="298.60" width="208.70" height="26.20" fill="#fff" stroke="#7a7a7a" stroke-width="0.9"/>
<path d="M474.00,305.20h11.6" stroke="#000" stroke-width="2"/>
<path d="M474.00,317.20h11.3" stroke="#1414ff" stroke-width="2.2" stroke-dasharray="2.2,2.3"/>
<g font-family="Liberation Sans" font-size="9.15" fill="#111"><text x="488.70" y="309.20">Input Acceleration (AM-FM, f<tspan font-size="6" dy="1.8">c</tspan><tspan dy="-1.8">=100 Hz)</tspan></text><text x="488.70" y="320.20">Instantaneous Frequency (AM-FM, f<tspan font-size="6" dy="1.8">c</tspan><tspan dy="-1.8">=100 Hz)</tspan></text></g>
<path d="M404,329.43H681.5" stroke="#233f6e" stroke-width="1.9" stroke-dasharray="1.6,1.43"/>
<text x="469.00" y="341.93" font-family="Liberation Sans" font-size="9.2" font-weight="bold" fill="#1f3a66" stroke="#1f3a66" stroke-width="0.25">Resonance Frequency: 106.78 Hz</text>
<circle cx="627.60" cy="360.60" r="7.4" fill="none" stroke="#c00000" stroke-width="3.1"/>
<rect x="671.90" y="343.30" width="14.6" height="14.6" fill="none" stroke="#6fac2f" stroke-width="3.1" stroke-linejoin="round"/>
<clipPath id="cpd"><rect x="404" y="295.3" width="277.5" height="212.0"/></clipPath>
<g clip-path="url(#cpd)" fill="none" stroke-linejoin="round">
<path d="M402.00,432.00 C402.67,429.24 403.33,426.49 404.00,419.00 C404.27,416.01 404.53,412.25 404.80,409.40 C405.33,403.69 405.87,401.57 406.40,399.80 C407.10,397.48 407.80,395.75 408.50,394.50 C409.57,392.59 410.63,391.76 411.70,390.20 C412.77,388.64 413.83,386.34 414.90,383.80 C415.70,381.89 416.50,379.84 417.30,378.50 C417.90,377.49 418.50,376.89 419.10,376.39 C420.00,375.64 420.90,375.15 421.80,379.60 C422.33,382.24 422.87,386.61 423.40,391.30 C424.10,397.45 424.80,404.14 425.50,410.40 C426.40,418.44 427.30,425.77 428.20,430.00 C428.80,432.82 429.40,434.27 430.00,436.00 C430.80,438.31 431.60,441.13 432.40,441.38 C433.60,441.75 434.80,436.33 436.00,432.00 C437.00,428.39 438.00,425.53 439.00,418.00 C439.33,415.49 439.67,412.46 440.00,410.00 C441.33,400.17 442.67,399.50 444.00,396.00 C445.13,393.02 446.27,388.00 447.40,384.00 C448.40,380.47 449.40,377.74 450.40,377.43 C451.27,377.16 452.13,378.71 453.00,384.00 C453.67,388.07 454.33,394.35 455.00,402.00 C455.50,407.74 456.00,414.25 456.50,420.00 C457.00,425.75 457.50,430.73 458.00,436.00 C459.00,446.53 460.00,458.20 461.00,466.00 C462.13,474.84 463.27,478.72 464.40,477.89 C465.27,477.26 466.13,473.87 467.00,470.00 C468.33,464.05 469.67,456.95 471.00,450.00 C472.33,443.05 473.67,436.23 475.00,430.00 C476.47,423.14 477.93,416.99 479.40,415.81 C480.60,414.85 481.80,417.22 483.00,422.00 C484.33,427.31 485.67,435.58 487.00,444.00 C488.00,450.31 489.00,456.71 490.00,462.00 C490.80,466.23 491.60,469.75 492.40,469.60 C493.27,469.42 494.13,464.93 495.00,460.00 C496.33,452.42 497.67,443.80 499.00,436.00 C500.33,428.20 501.67,421.21 503.00,416.00 C504.20,411.31 505.40,408.06 506.60,405.85 C507.73,403.76 508.87,402.61 510.00,412.00 C510.67,417.53 511.33,426.70 512.00,433.00 C512.77,440.24 513.53,443.67 514.30,447.00 C515.07,450.33 515.83,453.56 516.60,456.10 C517.83,460.19 519.07,462.51 520.30,465.10 C521.57,467.76 522.83,470.70 524.10,474.10 C525.20,477.05 526.30,480.34 527.40,484.70 C528.30,488.27 529.20,492.56 530.10,493.50 C531.00,494.44 531.90,492.03 532.80,487.70 C533.67,483.53 534.53,477.56 535.40,469.60 C536.13,462.86 536.87,454.70 537.60,447.10 C538.37,439.16 539.13,431.83 539.90,424.50 C540.47,419.08 541.03,413.66 541.60,409.70 C542.53,403.17 543.47,400.60 544.40,401.05 C545.60,401.63 546.80,407.20 548.00,413.00 C549.33,419.45 550.67,426.19 552.00,426.00 C553.33,425.80 554.67,418.67 556.00,413.00 C557.27,407.61 558.53,403.54 559.80,402.19 C560.80,401.12 561.80,401.74 562.80,411.00 C563.20,414.70 563.60,419.79 564.00,425.00 C564.47,431.08 564.93,437.34 565.40,442.60 C566.17,451.24 566.93,457.21 567.70,462.10 C568.33,466.14 568.97,469.46 569.60,469.60 C570.37,469.76 571.13,465.27 571.90,460.60 C572.77,455.32 573.63,449.80 574.50,445.60 C575.23,442.05 575.97,439.44 576.70,438.00 C577.70,436.03 578.70,436.22 579.70,435.80 C580.47,435.48 581.23,434.80 582.00,433.50 C582.73,432.25 583.47,430.43 584.20,427.50 C584.97,424.43 585.73,420.15 586.50,416.00 C587.13,412.57 587.77,409.22 588.40,408.28 C589.60,406.51 590.80,413.38 592.00,420.00 C593.00,425.52 594.00,430.86 595.00,434.00 C595.67,436.09 596.33,437.20 597.00,436.97 C597.87,436.67 598.73,434.10 599.60,432.00 C600.40,430.06 601.20,428.51 602.00,429.14 C603.00,429.93 604.00,434.12 605.00,438.00 C606.33,443.18 607.67,447.82 609.00,452.00 C610.13,455.55 611.27,458.76 612.40,459.45 C613.60,460.18 614.80,458.08 616.00,457.00 C617.00,456.10 618.00,455.91 619.00,456.03 C620.67,456.24 622.33,457.32 624.00,458.40 C625.67,459.48 627.33,460.56 629.00,462.00 C630.33,463.15 631.67,464.54 633.00,468.00 C634.33,471.46 635.67,476.99 637.00,475.28 C638.00,474.00 639.00,468.66 640.00,460.00 C641.00,451.34 642.00,439.37 643.00,430.00 C644.17,419.07 645.33,411.68 646.50,411.50 C647.33,411.38 648.17,414.93 649.00,421.00 C650.00,428.29 651.00,439.21 652.00,448.00 C653.33,459.72 654.67,467.67 656.00,466.96 C657.33,466.25 658.67,456.89 660.00,446.00 C661.00,437.83 662.00,428.81 663.00,422.00 C663.83,416.33 664.67,412.20 665.50,411.58 C666.33,410.97 667.17,413.87 668.00,416.00 C669.00,418.56 670.00,420.03 671.00,419.64 C671.77,419.34 672.53,417.96 673.30,415.10 C673.97,412.62 674.63,409.02 675.30,405.80 C675.83,403.23 676.37,400.90 676.90,396.50 C677.33,392.93 677.77,387.98 678.20,383.20 C678.57,379.15 678.93,375.22 679.30,371.20 C679.63,367.54 679.97,363.81 680.30,360.60 C680.63,357.39 680.97,354.70 681.30,352.70 C681.53,351.30 681.77,350.24 682.00,349.00 C682.33,347.23 682.67,345.12 683.00,343.00" stroke="#0a0a0a" stroke-width="1.65"/>
<path d="M402.00,378.00 C402.67,379.40 403.33,380.81 404.00,383.30 C404.80,386.29 405.60,390.84 406.40,394.50 C407.47,399.38 408.53,402.65 409.60,406.20 C410.67,409.75 411.73,413.56 412.80,416.80 C414.03,420.55 415.27,423.52 416.50,423.69 C417.57,423.84 418.63,421.88 419.70,418.90 C420.77,415.92 421.83,411.92 422.90,407.20 C423.97,402.48 425.03,397.04 426.10,393.40 C427.17,389.76 428.23,387.91 429.30,387.64 C430.53,387.32 431.77,389.11 433.00,392.00 C434.33,395.12 435.67,399.52 437.00,404.00 C438.00,407.36 439.00,410.76 440.00,416.00 C441.00,421.24 442.00,428.32 443.00,434.00 C444.00,439.68 445.00,443.97 446.00,448.00 C447.33,453.37 448.67,458.27 450.00,457.99 C451.33,457.71 452.67,452.24 454.00,446.00 C455.00,441.32 456.00,436.21 457.00,432.00 C458.33,426.38 459.67,422.37 461.00,418.00 C461.67,415.82 462.33,413.54 463.00,412.00 C464.33,408.91 465.67,408.74 467.00,408.40 C468.67,407.98 470.33,407.30 472.00,406.00 C474.33,404.18 476.67,401.15 479.00,401.66 C480.67,402.02 482.33,404.19 484.00,406.00 C485.53,407.67 487.07,409.03 488.60,409.00 C490.40,408.96 492.20,406.99 494.00,407.00 C495.67,407.01 497.33,408.73 499.00,411.00 C500.67,413.27 502.33,416.10 504.00,415.53 C505.33,415.07 506.67,412.43 508.00,410.00 C509.33,407.57 510.67,405.33 512.00,402.00 C513.00,399.50 514.00,396.38 515.00,394.00 C516.40,390.67 517.80,388.78 519.20,386.40 C520.63,383.96 522.07,381.00 523.50,381.00 C524.90,381.00 526.30,383.84 527.70,386.00 C529.13,388.22 530.57,389.73 532.00,391.00 C533.00,391.89 534.00,392.66 535.00,392.90 C537.00,393.40 539.00,391.83 541.00,391.00 C542.67,390.31 544.33,390.14 546.00,389.80 C547.47,389.50 548.93,389.06 550.40,389.46 C551.67,389.81 552.93,390.79 554.20,393.10 C555.20,394.92 556.20,397.58 557.20,400.60 C558.20,403.62 559.20,407.01 560.20,409.60 C561.47,412.88 562.73,414.89 564.00,414.90 C565.47,414.91 566.93,412.22 568.40,410.40 C569.93,408.49 571.47,407.52 573.00,407.87 C574.23,408.15 575.47,409.28 576.70,411.90 C577.97,414.59 579.23,418.86 580.50,423.20 C581.73,427.43 582.97,431.72 584.20,432.16 C585.70,432.70 587.20,427.53 588.70,420.20 C590.23,412.71 591.77,402.97 593.30,396.10 C594.53,390.57 595.77,386.91 597.00,385.30 C598.67,383.13 600.33,384.73 602.00,384.10 C603.33,383.60 604.67,381.68 606.00,380.00 C607.43,378.20 608.87,376.67 610.30,376.60 C611.20,376.56 612.10,377.09 613.00,377.60 C614.10,378.23 615.20,378.83 616.30,378.80 C617.57,378.76 618.83,377.89 620.10,375.80 C621.33,373.76 622.57,370.57 623.80,367.60 C624.53,365.83 625.27,364.14 626.00,362.50 C626.53,361.31 627.07,360.14 627.60,360.01 C628.23,359.86 628.87,361.16 629.50,362.50 C630.37,364.34 631.23,366.25 632.10,369.10 C633.37,373.26 634.63,379.40 635.90,385.60 C637.13,391.64 638.37,397.73 639.60,402.10 C640.40,404.93 641.20,407.04 642.00,409.00 C642.73,410.80 643.47,412.47 644.20,412.68 C645.13,412.94 646.07,410.84 647.00,409.00 C648.07,406.90 649.13,405.14 650.20,402.10 C651.30,398.97 652.40,394.47 653.50,391.00 C654.63,387.43 655.77,384.94 656.90,384.81 C657.77,384.70 658.63,385.97 659.50,388.00 C660.40,390.11 661.30,393.03 662.20,396.10 C663.97,402.13 665.73,408.71 667.50,414.20 C669.23,419.59 670.97,423.92 672.70,427.70 C673.13,428.64 673.57,429.55 674.00,430.50 C675.33,433.41 676.67,436.69 678.00,438.00 C679.33,439.31 680.67,438.66 682.00,439.00 C682.67,439.17 683.33,439.58 684.00,440.00" stroke="#2020ff" stroke-width="1.75" stroke-dasharray="4.4,1.3,2.1,1.3"/>
</g>
<text x="554.80" y="560.80" font-family="Liberation Serif" font-size="18" text-anchor="middle" fill="#111">(d)</text>
</svg></body></html>
